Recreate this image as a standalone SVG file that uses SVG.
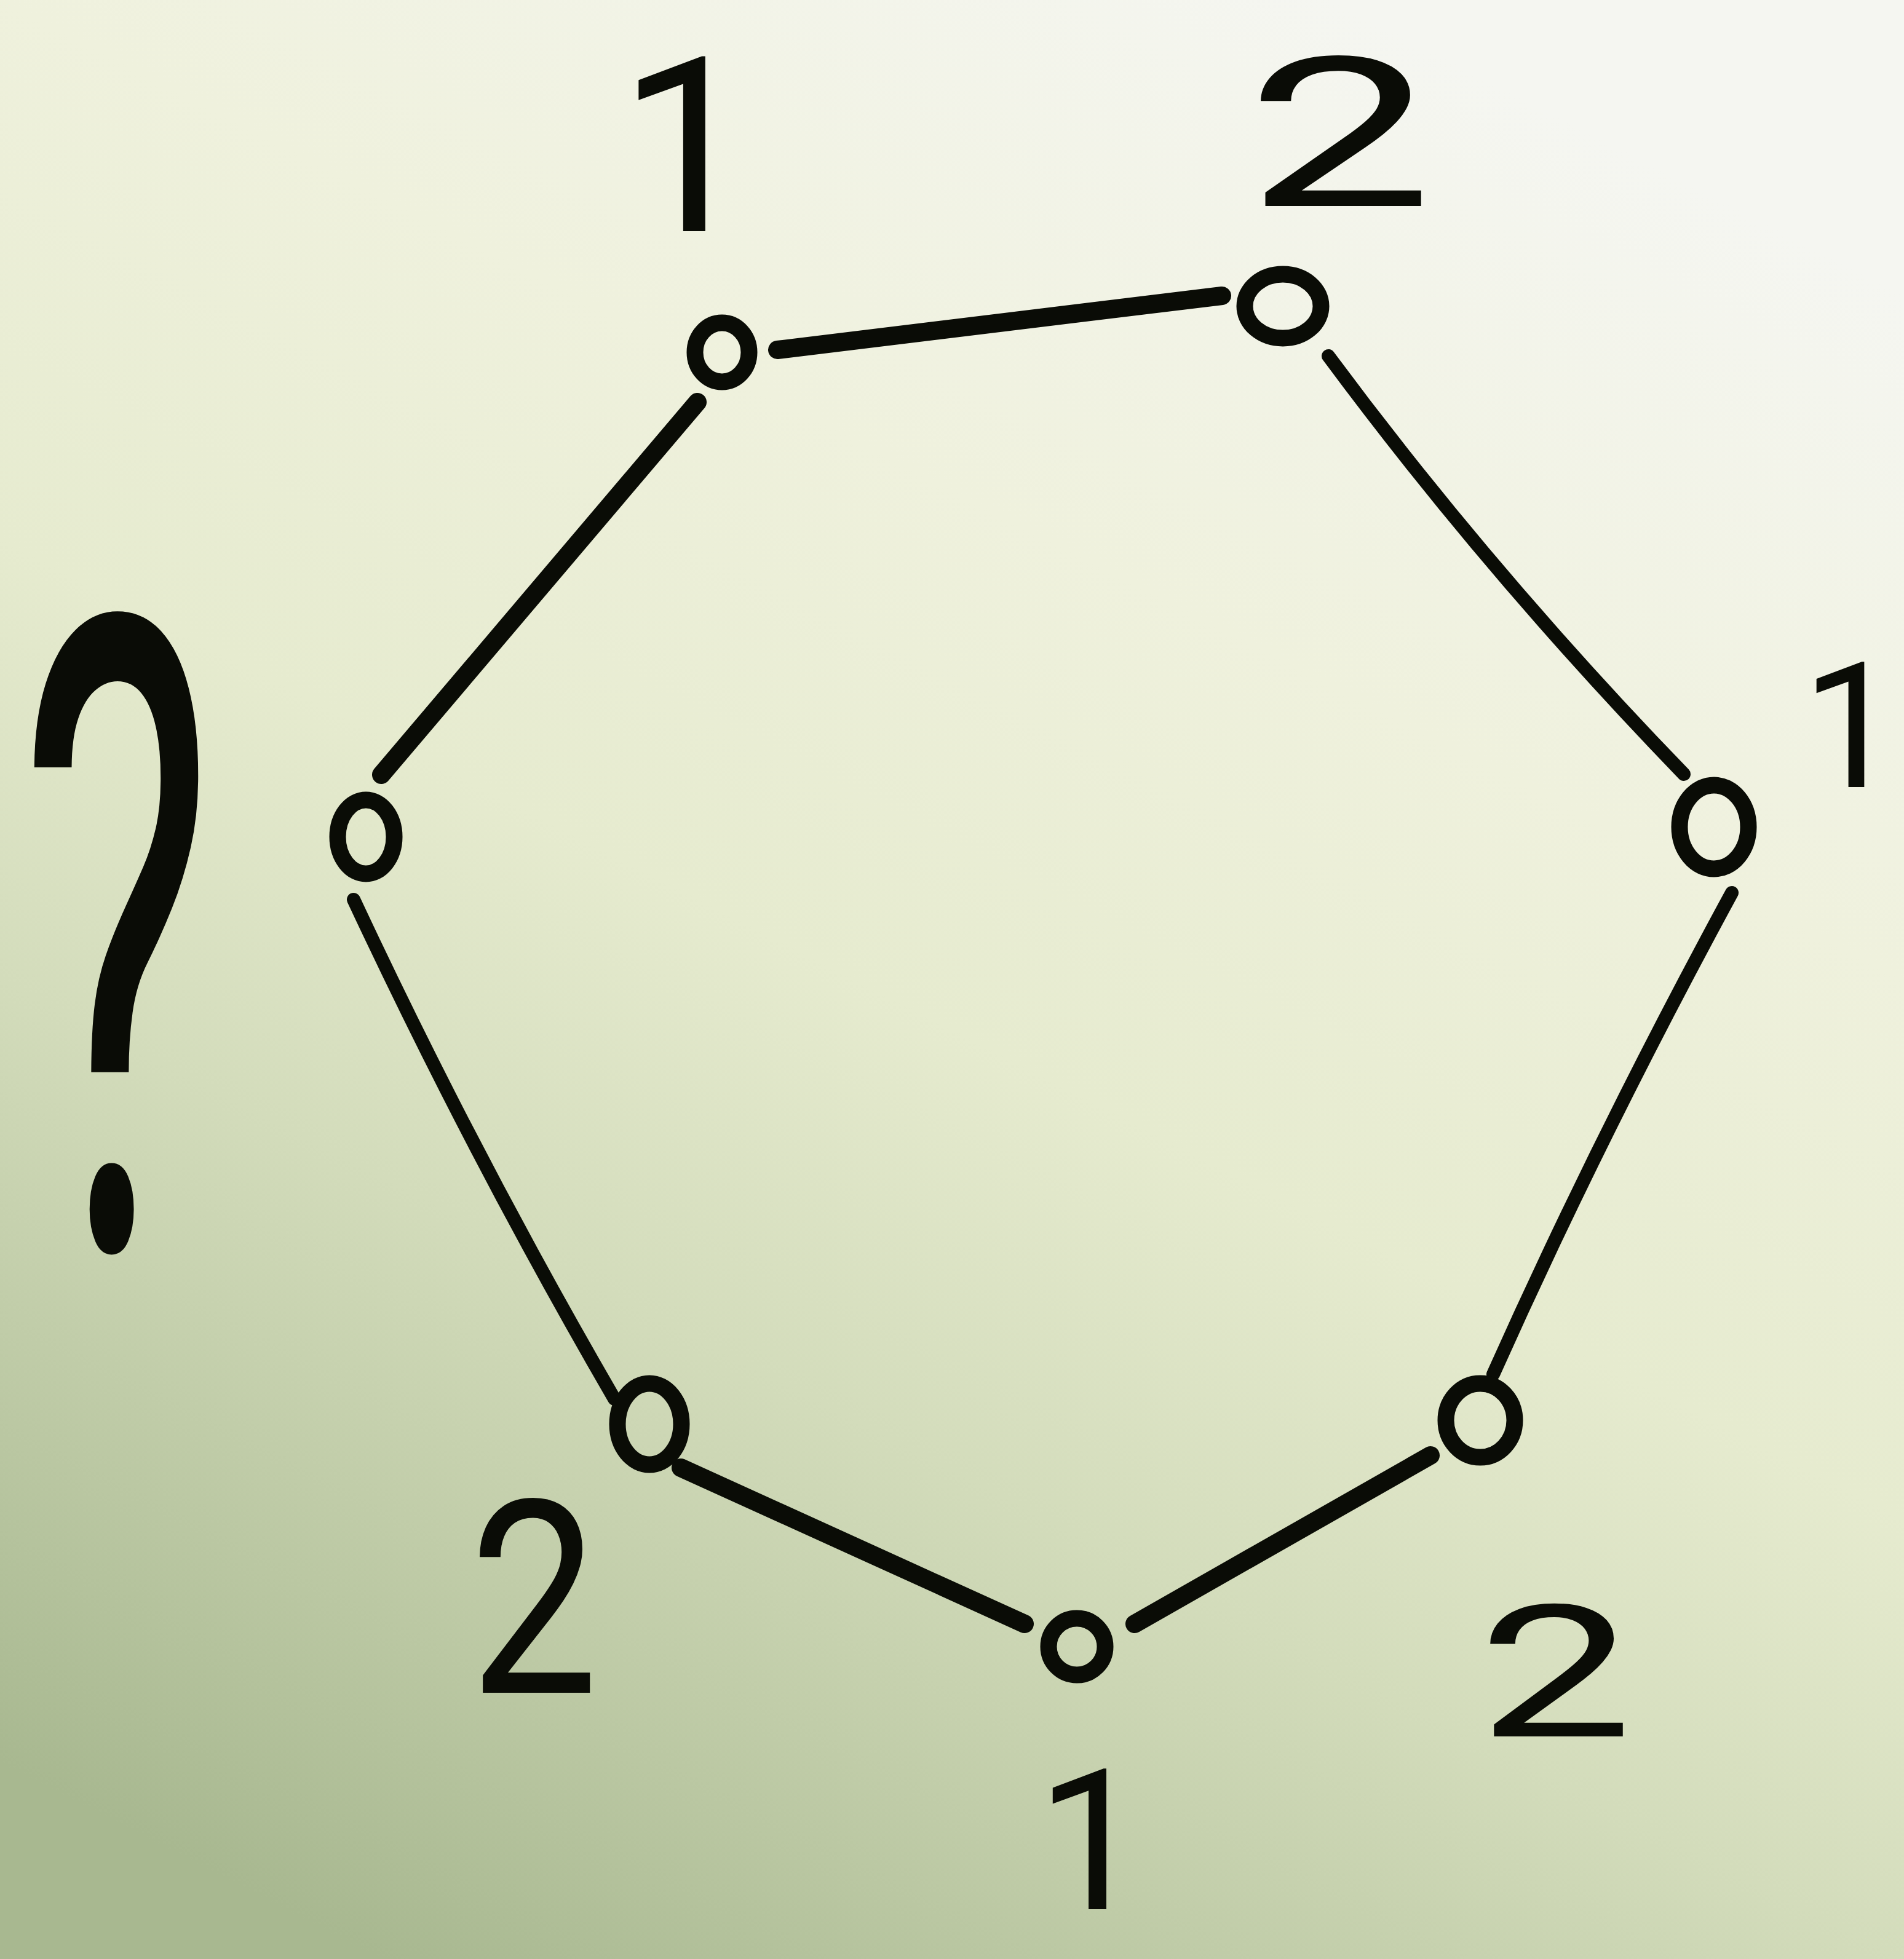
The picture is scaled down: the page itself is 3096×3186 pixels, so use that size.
<svg xmlns="http://www.w3.org/2000/svg" width="3096" height="3186" viewBox="0 0 3096 3186">
  <defs>
    <linearGradient id="bg" x1="0.7" y1="0" x2="0.2" y2="1">
      <stop offset="0" stop-color="#f5f6f1"/>
      <stop offset="0.28" stop-color="#eff1dd"/>
      <stop offset="0.5" stop-color="#e6ebcf"/>
      <stop offset="0.68" stop-color="#d3dcbb"/>
      <stop offset="1" stop-color="#a8b890"/>
    </linearGradient>
  </defs>
  <style>
    .node { fill: none; stroke: #0a0c06; stroke-width: 27; }
    .edge { fill: none; stroke: #0a0c06; stroke-width: 22; stroke-linecap: round; }
    .thick { stroke-width: 30; }
    .lbl { font-family: Roboto, "Open Sans", "Liberation Sans", sans-serif; font-weight: 400; fill: #0a0c06; text-anchor: middle; }
  </style>
  <rect width="3096" height="3186" fill="url(#bg)"/>

  <g id="connectors">
    <path class="edge thick" d="M1264 569 L1987 481"/>
    <path class="edge thick" d="M1134 654 L620 1260"/>
    <path class="edge" d="M2160 579 Q2420 930 2738 1259"/>
    <path class="edge" d="M2816 1452 Q2600 1850 2428 2235"/>
    <path class="edge thick" d="M2326 2367 L1845 2641"/>
    <path class="edge thick" d="M1666 2641 L1107 2387"/>
    <path class="edge" d="M999 2275 Q770 1880 575 1463"/>
  </g>

  <g id="node-a">
    <ellipse class="node" cx="1174" cy="573" rx="44" ry="48"/>
    <text class="lbl" transform="translate(1117 376)" font-size="398">1</text>
  </g>
  <g id="node-b">
    <ellipse class="node" cx="2086" cy="498" rx="62" ry="52"/>
    <text class="lbl" transform="translate(2178 335) scale(1.6 1)" font-size="340">2</text>
  </g>
  <g id="node-c">
    <ellipse class="node" cx="2787" cy="1345" rx="56" ry="68"/>
    <text class="lbl" transform="translate(3010 1280)" font-size="285">1</text>
  </g>
  <g id="node-d">
    <ellipse class="node" cx="2407" cy="2310" rx="56" ry="60"/>
    <text class="lbl" transform="translate(2529 2824) scale(1.5 1)" font-size="300">2</text>
  </g>
  <g id="node-e">
    <ellipse class="node" cx="1751" cy="2678" rx="46" ry="46"/>
    <text class="lbl" transform="translate(1775 3105)" font-size="320">1</text>
  </g>
  <g id="node-f">
    <ellipse class="node" cx="1056" cy="2316" rx="52" ry="66"/>
    <text class="lbl" transform="translate(868 2753) scale(0.85 1)" font-size="440">2</text>
  </g>
  <g id="node-g">
    <ellipse class="node" cx="595" cy="1361" rx="46" ry="60"/>
    <text class="lbl" transform="translate(190 2032) scale(1.4 3)" font-size="480">?</text>
  </g>
</svg>
